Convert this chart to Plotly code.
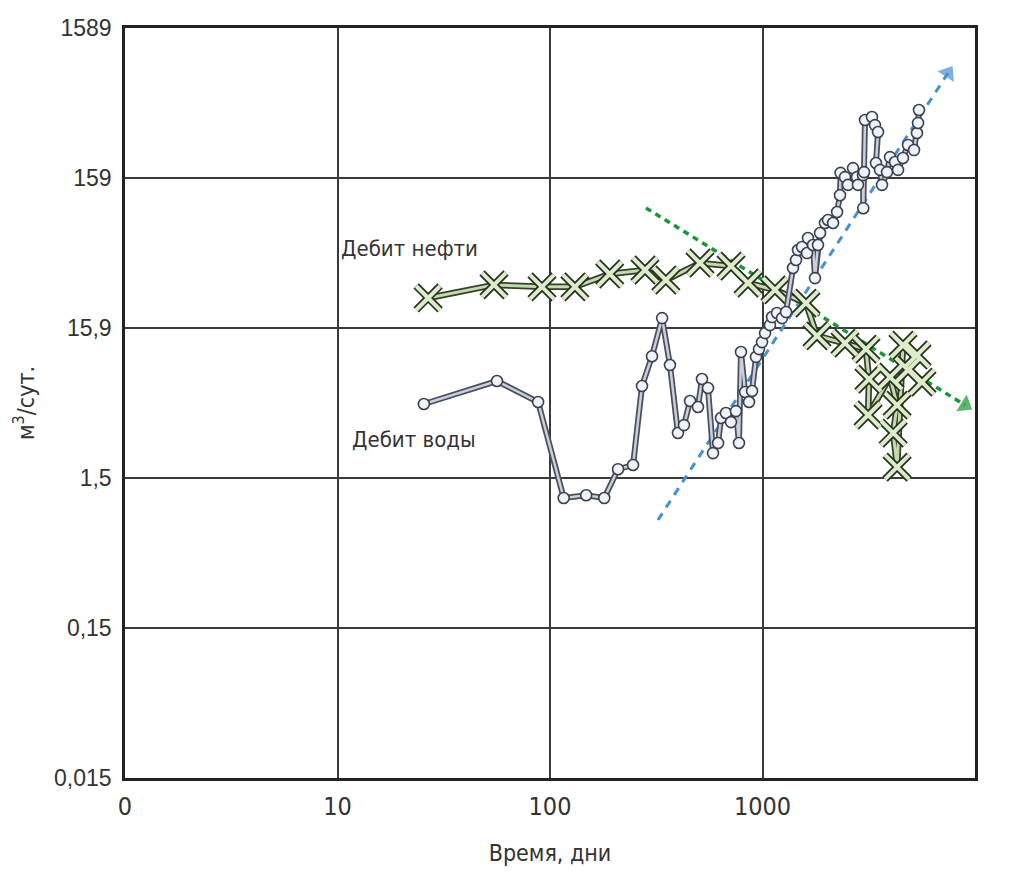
import plotly.graph_objects as go

# ---- data ----
oil_days = [26.7, 54.5, 91.7, 131, 191, 280, 351, 508, 711, 855, 1145, 1602, 1805,
            2445, 3069, 3170, 3140, 3983, 4300, 4120, 4300, 4582, 5337, 4840, 5633]
oil_rate = [25.2, 30.8, 29.9, 29.9, 36.4, 38.7, 33.2, 43.1, 41.1, 31.7, 28.5, 23.3, 14.1,
            12.6, 11.5, 7.26, 4.18, 7.48, 4.87, 3.17, 1.88, 12.2, 10.5, 8.34, 6.93]

water_days = [25.5, 56.3, 87.9, 116, 148, 180, 209, 246, 271, 302, 337, 367, 400, 427,
              456, 497, 519, 554, 585, 618, 638, 673, 711, 750, 775, 792, 828, 864, 893,
              932, 963, 995, 1028, 1084, 1109, 1170, 1236, 1291, 1392, 1438, 1469, 1535,
              1620, 1637, 1729, 1766, 1824, 1866, 1968, 2033, 2148, 2244, 2316, 2330,
              2445, 2525, 2667, 2785, 2814, 2972, 2980, 3005, 3036, 3275, 3383, 3497,
              3420, 3573, 3650, 3855, 3981, 4205, 4344, 4582, 4840, 5164, 5333, 5395, 5450]
water_rate = [4.95, 7.04, 5.10, 1.17, 1.22, 1.17, 1.82, 1.94, 6.52, 10.3, 18.5, 9.00, 3.17,
              3.58, 5.18, 4.73, 7.26, 6.33, 2.33, 2.72, 3.99, 4.31, 3.75, 4.44, 2.72, 11.0,
              5.95, 5.10, 6.04, 10.2, 11.5, 12.8, 14.7, 16.6, 18.8, 20.0, 18.5, 20.3, 39.9,
              45.1, 52.6, 55.1, 50.2, 63.2, 56.8, 34.2, 56.8, 68.3, 79.6, 83.4, 79.6, 94.3,
              122, 172, 161, 143, 185, 161, 143, 166, 100, 174, 387, 405, 358, 322, 200,
              180, 143, 174, 219, 203, 180, 216, 264, 244, 317, 370, 451]

water_trend_days = [322, 7464]
water_trend_rate = [0.834, 796]
oil_trend_days = [283, 8977]
oil_trend_rate = [100.3, 4.87]

x_ticks = [1, 10, 100, 1000, 10000]
x_tick_text = ["0", "10", "100", "1000", "10,000"]
y_ticks = [0.0159, 0.159, 1.59, 15.9, 159, 1589]
y_tick_text = ["0,015", "0,15", "1,5", "15,9", "159", "1589"]

oil_label = "Дебит нефти"
water_label = "Дебит воды"
oil_label_pos = (21.9, 54.2)     # (days, rate) where the label sits
water_label_pos = (22.9, 2.85)

NARROW = "Liberation Sans Narrow, DejaVu Sans Condensed, Arial Narrow, sans-serif"
REG = "Liberation Sans, Arial, sans-serif"
TXT = "#333333"

fig = go.Figure()

# trend lines (under the data)
fig.add_trace(go.Scatter(
    x=oil_trend_days, y=oil_trend_rate, mode="lines+markers",
    line=dict(color="#1b9636", width=3.5, dash="6px,5px"),
    marker=dict(symbol="triangle-up", size=[0, 17], angleref="previous",
                color="#1b9636", line=dict(width=0)),
    hoverinfo="skip", showlegend=False))
fig.add_trace(go.Scatter(
    x=water_trend_days, y=water_trend_rate, mode="lines+markers",
    line=dict(color="#4a90d0", width=3, dash="8px,7px"),
    marker=dict(symbol="triangle-up", size=[0, 17], angleref="previous",
                color="#4a90d0", line=dict(width=0)),
    hoverinfo="skip", showlegend=False))

# oil: tube line + crosses
fig.add_trace(go.Scatter(x=oil_days, y=oil_rate, mode="lines",
                         line=dict(color="#34402c", width=6.5),
                         showlegend=False, hoverinfo="skip"))
fig.add_trace(go.Scatter(x=oil_days, y=oil_rate, mode="lines",
                         line=dict(color="#c6d9ad", width=3),
                         showlegend=False, hoverinfo="skip"))
fig.add_trace(go.Scatter(x=oil_days, y=oil_rate, mode="markers",
                         marker=dict(symbol="x-thin-open", size=24, color="#25301f",
                                     line=dict(color="#25301f", width=7.5)),
                         showlegend=False, hoverinfo="skip"))
fig.add_trace(go.Scatter(x=oil_days, y=oil_rate, mode="markers", name=oil_label,
                         marker=dict(symbol="x-thin-open", size=24, color="#dcebc9",
                                     line=dict(color="#dcebc9", width=4)),
                         showlegend=False))

# water: tube line + circles
fig.add_trace(go.Scatter(x=water_days, y=water_rate, mode="lines",
                         line=dict(color="#4a4f5b", width=6),
                         showlegend=False, hoverinfo="skip"))
fig.add_trace(go.Scatter(x=water_days, y=water_rate, mode="lines",
                         line=dict(color="#c9cfdc", width=2.5),
                         showlegend=False, hoverinfo="skip"))
fig.add_trace(go.Scatter(x=water_days, y=water_rate, mode="markers", name=water_label,
                         marker=dict(symbol="circle", size=11, color="#eef2fa",
                                     line=dict(color="#3c414c", width=1.6)),
                         showlegend=False))

import math
fig.add_annotation(x=math.log10(oil_label_pos[0]), y=math.log10(oil_label_pos[1]),
                   xref="x", yref="y", text=oil_label, showarrow=False,
                   font=dict(family=NARROW, size=22, color=TXT))
fig.add_annotation(x=math.log10(water_label_pos[0]), y=math.log10(water_label_pos[1]),
                   xref="x", yref="y", text=water_label, showarrow=False,
                   font=dict(family=NARROW, size=22, color=TXT))

fig.update_xaxes(
    type="log", range=[0, 4], tickvals=x_ticks, ticktext=x_tick_text,
    showgrid=True, gridcolor="#3a3a3a", gridwidth=1.6,
    showline=True, linecolor="#222222", linewidth=2.5, mirror=True,
    ticks="outside", ticklen=4, tickcolor="rgba(0,0,0,0)",
    tickfont=dict(family=NARROW, size=25, color=TXT),
    title=dict(text="Время, дни", font=dict(family=NARROW, size=23, color=TXT), standoff=26),
    zeroline=False)
fig.update_yaxes(
    type="log", range=[-1.7986, 3.2011], tickvals=y_ticks, ticktext=y_tick_text,
    showgrid=True, gridcolor="#3a3a3a", gridwidth=1.6,
    showline=True, linecolor="#222222", linewidth=2.5, mirror=True,
    ticks="outside", ticklen=6, tickcolor="rgba(0,0,0,0)",
    tickfont=dict(family=REG, size=23, color=TXT),
    title=dict(text="м<sup>3</sup>/сут.", font=dict(family=NARROW, size=23, color=TXT), standoff=14),
    zeroline=False)

fig.update_layout(
    width=1013, height=883,
    margin=dict(l=125, r=38, t=28, b=105),
    paper_bgcolor="white", plot_bgcolor="white",
    showlegend=False)

fig.write_html("out.html")
